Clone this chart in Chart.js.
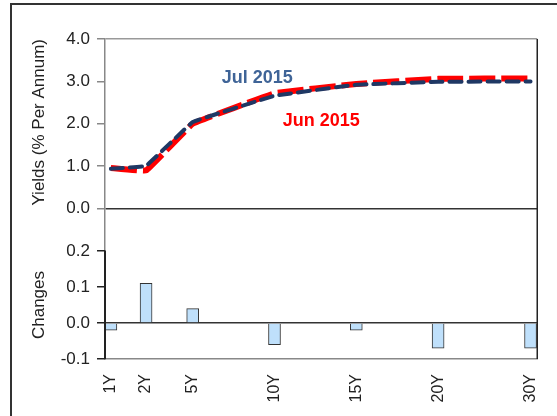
<!DOCTYPE html>
<html lang="en">
<head>
    <meta charset="UTF-8">
    <title>Yield Curve</title>
    <script src="https://cdn.jsdelivr.net/npm/chart.js"></script>
    <style>
        html, body {
            margin: 0;
            padding: 0;
            background: #ffffff;
            overflow: hidden;
        }
        .wrap {
            position: relative;
            width: 557px;
            height: 416px;
        }
        .frame {
            position: absolute;
            left: 10px;
            top: 3px;
            width: 620px;
            height: 500px;
            border: 2px solid #333;
        }
        #myChart {
            position: absolute;
            left: 0;
            top: 0;
        }
    </style>
</head>
<body>
    <div class="wrap">
        <div class="frame"></div>
        <canvas id="myChart" width="557" height="416"></canvas>
    </div>

    <script>
        // Data
        const tenorLabels = ['1Y', '2Y', '5Y', '10Y', '15Y', '20Y', '30Y'];
        const tenorPos = [0, 2.15, 5, 10, 15, 20, 25.65];
        const jul2015 = [0.94, 1.01, 2.04, 2.66, 2.92, 2.99, 3.00];
        const jun2015 = [0.96, 0.90, 2.00, 2.72, 2.94, 3.06, 3.07];
        const changes = [-0.02, 0.11, 0.04, -0.06, -0.02, -0.07, -0.07];
        const yieldTicks = [0, 1, 2, 3, 4];
        const changeTicks = [-0.1, 0, 0.1, 0.2];

        const fontFamily = "'Liberation Sans', Arial, sans-serif";

        const toPoints = vals => vals.map((v, i) => ({ x: tenorPos[i], y: v }));

        // series labels drawn in the plot
        const seriesLabels = {
            id: 'seriesLabels',
            afterDatasetsDraw(chart) {
                const ctx = chart.ctx;
                const xs = chart.scales.x;
                const ys = chart.scales.yTop;
                const items = [
                    { text: 'Jul 2015', x: 8.94, y: 3.07, color: '#3F6497' },
                    { text: 'Jun 2015', x: 12.86, y: 2.06, color: '#FF0000' }
                ];
                ctx.save();
                ctx.font = 'bold 18px ' + fontFamily;
                ctx.textAlign = 'center';
                ctx.textBaseline = 'middle';
                items.forEach(it => {
                    ctx.fillStyle = it.color;
                    ctx.fillText(it.text, xs.getPixelForValue(it.x), ys.getPixelForValue(it.y));
                });
                ctx.restore();
            }
        };

        // right border of the plot and left axis line of the lower panel
        const panelBorders = {
            id: 'panelBorders',
            afterDraw(chart) {
                const a = chart.chartArea;
                const yb = chart.scales.yBot;
                const ctx = chart.ctx;
                ctx.save();
                ctx.setLineDash([]);
                ctx.strokeStyle = '#222';
                ctx.lineWidth = 1.5;
                ctx.beginPath();
                ctx.moveTo(a.right, a.top);
                ctx.lineTo(a.right, a.bottom);
                ctx.stroke();
                ctx.lineWidth = 2;
                ctx.beginPath();
                ctx.moveTo(a.left, yb.getPixelForValue(0.2));
                ctx.lineTo(a.left, yb.getPixelForValue(-0.1));
                ctx.stroke();
                ctx.restore();
            }
        };

        const isZero = v => Math.abs(v) < 1e-9;

        const ctx = document.getElementById('myChart').getContext('2d');
        const myChart = new Chart(ctx, {
            type: 'bar',
            data: {
                datasets: [
                    {
                        type: 'line',
                        label: 'Jul 2015',
                        data: toPoints(jul2015),
                        yAxisID: 'yTop',
                        borderColor: '#1F3864',
                        borderWidth: 4,
                        borderDash: [12, 7],
                        borderCapStyle: 'round',
                        pointRadius: 0,
                        tension: 0.05
                    },
                    {
                        type: 'line',
                        label: 'Jun 2015',
                        data: toPoints(jun2015),
                        yAxisID: 'yTop',
                        borderColor: '#FF0000',
                        borderWidth: 6,
                        borderDash: [26, 6],
                        pointRadius: 0,
                        tension: 0.05
                    },
                    {
                        type: 'bar',
                        label: 'Changes',
                        data: toPoints(changes),
                        yAxisID: 'yBot',
                        backgroundColor: '#BFE0FB',
                        borderColor: '#333',
                        borderWidth: 1,
                        barThickness: 12
                    }
                ]
            },
            options: {
                responsive: false,
                animation: false,
                devicePixelRatio: 1,
                layout: { padding: { top: 39, right: 17, left: 0, bottom: 0 } },
                plugins: { legend: { display: false }, tooltip: { enabled: false } },
                scales: {
                    x: {
                        type: 'linear',
                        min: -0.36,
                        max: 26.06,
                        offset: false,
                        grid: { display: false, offset: false },
                        border: { color: '#888', width: 1.5 },
                        afterBuildTicks: scale => { scale.ticks = tenorPos.map(v => ({ value: v })); },
                        afterFit: scale => { scale.height = 57; },
                        ticks: {
                            autoSkip: false,
                            minRotation: 90,
                            maxRotation: 90,
                            padding: 7,
                            color: '#222',
                            font: { family: fontFamily, size: 16 },
                            callback: v => tenorLabels[tenorPos.indexOf(v)]
                        }
                    },
                    yTop: {
                        type: 'linear',
                        position: 'left',
                        stack: 'panels',
                        stackWeight: 212,
                        weight: 2,
                        min: -1,
                        max: 4,
                        afterBuildTicks: scale => { scale.ticks = yieldTicks.map(v => ({ value: v })); },
                        afterFit: scale => { scale.width = 105; },
                        border: { color: '#888', width: 1.5 },
                        grid: {
                            tickLength: 8,
                            tickColor: '#888',
                            lineWidth: 1.5,
                            color: c => isZero(c.tick.value) ? '#333' : (c.tick.value === 4 ? '#999' : 'rgba(0,0,0,0)')
                        },
                        ticks: {
                            autoSkip: false,
                            padding: 7,
                            color: '#222',
                            font: { family: fontFamily, size: 17 },
                            callback: v => v.toFixed(1)
                        },
                        title: {
                            display: true,
                            text: 'Yields (% Per Annum)',
                            align: 'end',
                            color: '#222',
                            padding: { top: 29, bottom: 0 },
                            font: { family: fontFamily, size: 17 }
                        }
                    },
                    yBot: {
                        type: 'linear',
                        position: 'left',
                        stack: 'panels',
                        stackWeight: 108,
                        weight: 1,
                        min: -0.1,
                        max: 0.2,
                        afterBuildTicks: scale => { scale.ticks = changeTicks.map(v => ({ value: v })); },
                        afterFit: scale => { scale.width = 105; },
                        border: { color: '#222', width: 1.5 },
                        grid: {
                            tickLength: 8,
                            tickColor: '#222',
                            lineWidth: 1.5,
                            color: c => isZero(c.tick.value) ? '#333' : 'rgba(0,0,0,0)'
                        },
                        ticks: {
                            autoSkip: false,
                            padding: 7,
                            color: '#222',
                            font: { family: fontFamily, size: 17 },
                            callback: v => v.toFixed(1)
                        },
                        title: {
                            display: true,
                            text: 'Changes',
                            color: '#222',
                            padding: { top: 29, bottom: 0 },
                            font: { family: fontFamily, size: 17 }
                        }
                    }
                }
            },
            plugins: [seriesLabels, panelBorders]
        });
    </script>
</body>
</html>
